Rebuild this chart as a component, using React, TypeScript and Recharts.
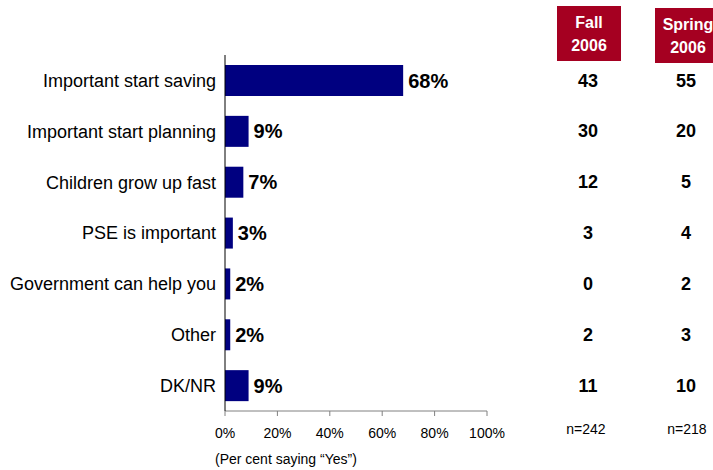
import React from "react";
import { BarChart, Bar, XAxis, YAxis, LabelList } from "recharts";

const categories = [
  "Important start saving",
  "Important start planning",
  "Children grow up fast",
  "PSE is important",
  "Government can help you",
  "Other",
  "DK/NR",
];
const yesValues = [68, 9, 7, 3, 2, 2, 9];
const fall2006 = [43, 30, 12, 3, 0, 2, 11];
const spring2006 = [55, 20, 5, 4, 2, 3, 10];
const xTicks = [0, 20, 40, 60, 80, 100];
const columnHeaders = [["Fall", "2006"], ["Spring", "2006"]];
const sampleSizes = ["n=242", "n=218"];

const data = categories.map((name, i) => ({
  name,
  yes: yesValues[i],
  fall: fall2006[i],
  spring: spring2006[i],
}));

const FONT = "'Liberation Sans', Arial, sans-serif";
const RED = "#A50021";

const columnLabel = (cx: number) => (props: any) => {
  const { y, height, value } = props;
  return (
    <text
      x={cx}
      y={Number(y) + Number(height) / 2}
      textAnchor="middle"
      dominantBaseline="central"
      fontFamily={FONT}
      fontWeight="bold"
      fontSize={18}
      fill="#000"
    >
      {value}
    </text>
  );
};

export default function App() {
  return (
    <div style={{ position: "absolute", left: 0, top: 0, width: 713, height: 470, background: "#fff", fontFamily: FONT, overflow: "hidden" }}>
      <BarChart
        width={713}
        height={470}
        data={data}
        layout="vertical"
        margin={{ top: 55, right: 226, left: 0, bottom: 29 }}
        barSize={31}
      >
        <XAxis
          type="number"
          domain={[0, 100]}
          ticks={xTicks}
          tickFormatter={(v: number) => `${v}%`}
          height={30}
          axisLine={{ stroke: "#808080" }}
          tickLine={{ stroke: "#808080" }}
          tickSize={5}
          tickMargin={12}
          tick={{ fill: "#000", fontSize: 14, fontFamily: FONT }}
          interval={0}
        />
        <YAxis
          type="category"
          dataKey="name"
          width={225}
          axisLine={{ stroke: "#000" }}
          tickLine={false}
          tickSize={0}
          tickMargin={9}
          tick={{ fill: "#000", fontSize: 18, fontFamily: FONT }}
          interval={0}
        />
        <Bar dataKey="yes" fill="#000080" isAnimationActive={false}>
          <LabelList
            dataKey="yes"
            position="right"
            offset={5}
            formatter={(v: any) => `${v}%`}
            style={{ fill: "#000", fontWeight: "bold", fontSize: 20, fontFamily: FONT }}
          />
          <LabelList dataKey="fall" content={columnLabel(588)} />
          <LabelList dataKey="spring" content={columnLabel(686)} />
        </Bar>
      </BarChart>
      <div style={{ position: "absolute", left: 557, top: 6, width: 64, height: 55, background: RED, color: "#fff", fontWeight: "bold", fontSize: 16, lineHeight: "23px", textAlign: "center", paddingTop: 5, boxSizing: "border-box" }}>
        {columnHeaders[0][0]}<br />{columnHeaders[0][1]}
      </div>
      <div style={{ position: "absolute", left: 655, top: 8, width: 66, height: 55, background: RED, color: "#fff", fontWeight: "bold", fontSize: 16, lineHeight: "23px", textAlign: "center", paddingTop: 5, boxSizing: "border-box" }}>
        {columnHeaders[1][0]}<br />{columnHeaders[1][1]}
      </div>
      <div style={{ position: "absolute", left: 555, top: 421, width: 62, textAlign: "center", fontSize: 14, color: "#000" }}>{sampleSizes[0]}</div>
      <div style={{ position: "absolute", left: 656, top: 421, width: 62, textAlign: "center", fontSize: 14, color: "#000" }}>{sampleSizes[1]}</div>
      <div style={{ position: "absolute", left: 215, top: 451, fontSize: 14, color: "#000", whiteSpace: "nowrap" }}>(Per cent saying “Yes”)</div>
    </div>
  );
}
